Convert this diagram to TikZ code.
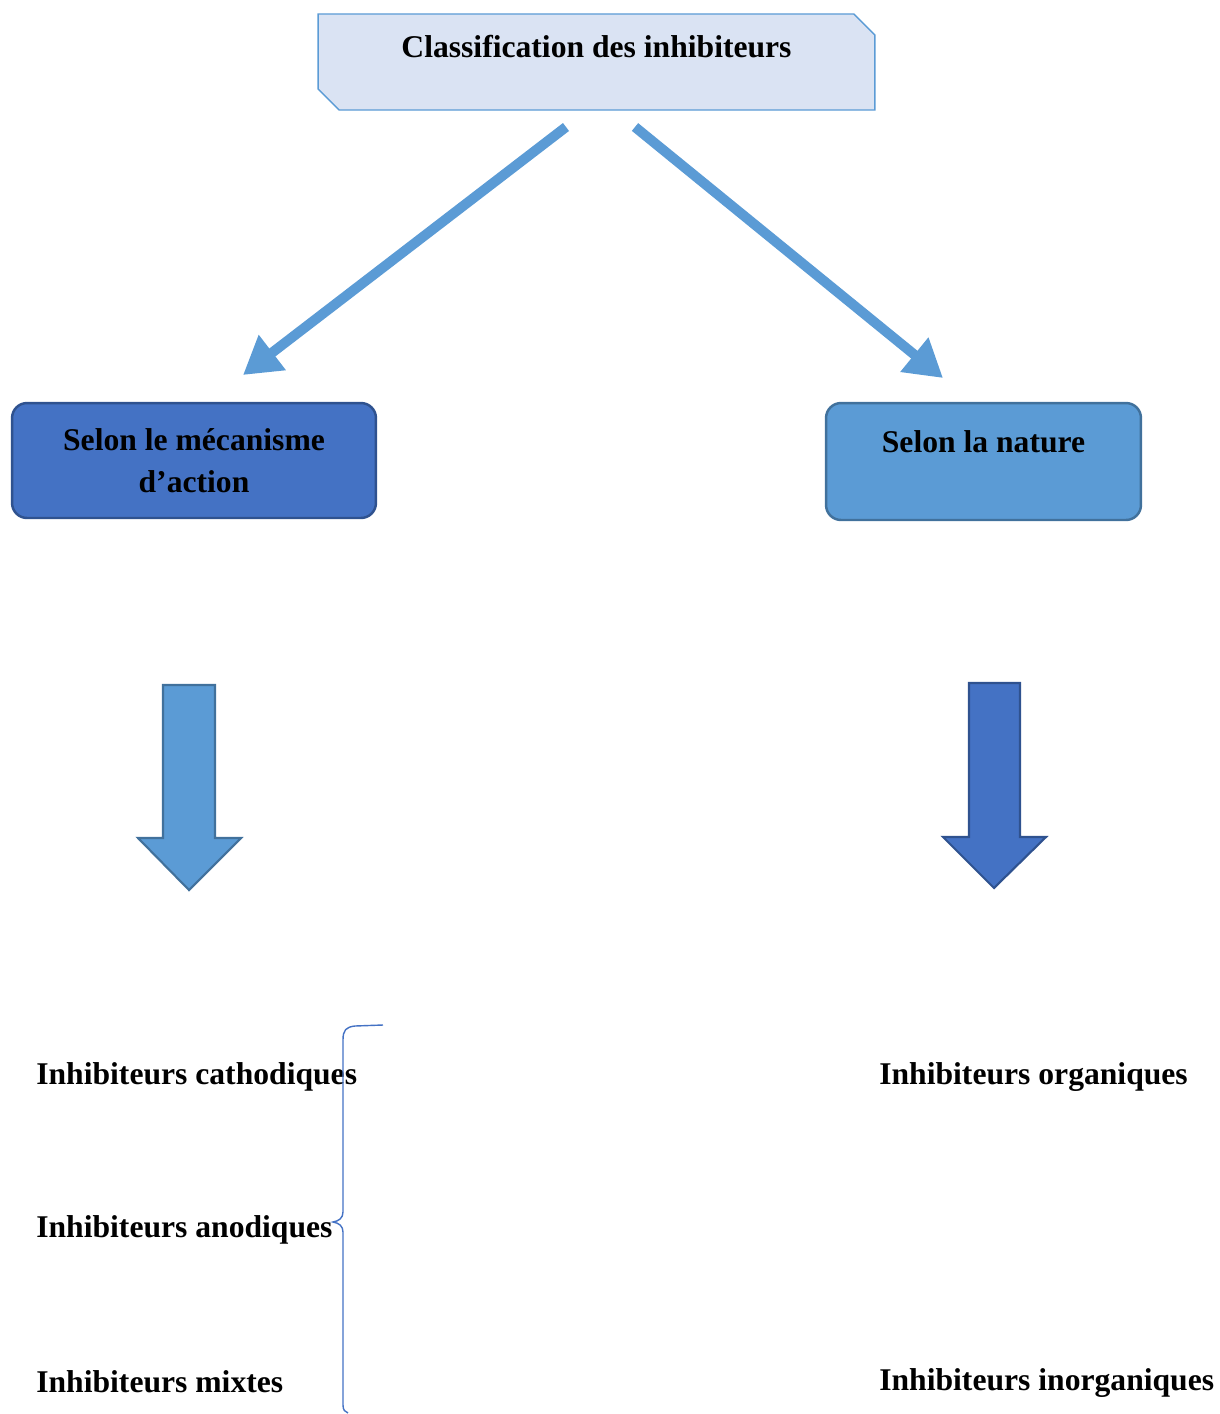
\documentclass[tikz,border=0pt]{standalone}
\usepackage{fontspec}
\setmainfont{Liberation Serif}
\usetikzlibrary{arrows.meta,shapes.misc}
\definecolor{paleblue}{HTML}{DAE3F3}
\definecolor{darkblue}{HTML}{4472C4}
\definecolor{darkline}{HTML}{2F528F}
\definecolor{midblue}{HTML}{5B9BD5}
\definecolor{midline}{HTML}{41719C}
\begin{document}
\begin{tikzpicture}[x=0.02cm,y=-0.02cm,
    every node/.style={font=\fontsize{18}{24}\selectfont\bfseries},
    headbox/.style={chamfered rectangle,chamfered rectangle xsep=6pt,chamfered rectangle ysep=6pt,
      chamfered rectangle corners={north east,south west},draw=midblue,fill=paleblue,line width=0.8pt,
      minimum width=11.14cm,inner sep=0pt,text height=0.65cm,text depth=0.85cm},
    sortbox/.style={rounded corners=0.3cm,line width=1.4pt,inner sep=0pt},
    branch/.style={midblue,line width=0.2cm,-{Triangle[length=0.74cm,width=0.84cm]}},
    item/.style={anchor=west,inner sep=0pt}]
  \useasboundingbox (0,0) rectangle (1220,1414);
  % boxes
  \node[headbox] (title) at (596.5,62) {Classification des inhibiteurs};
  \node[sortbox,draw=darkline,fill=darkblue,minimum width=7.28cm,minimum height=2.3cm,align=center]
    (meca) at (194,460.5) {Selon le mécanisme\\d’action};
  \node[sortbox,draw=midline,fill=midblue,minimum width=6.3cm,text height=0.98cm,text depth=1.36cm]
    (nature) at (983.5,461.5) {Selon la nature};
  % diagonal arrows
  \coordinate (l0) at (566,127);
  \coordinate (l1) at (243,375);
  \coordinate (r0) at (635,127);
  \coordinate (r1) at (943,378);
  \draw[branch] (l0) -- (l1);
  \draw[branch] (r0) -- (r1);
  % block arrows
  \draw[draw=midline,fill=midblue,line width=1.2pt,line join=miter]
    (163,685) -- (215,685) -- (215,838) -- (241,838) -- (189,890) -- (138,838) -- (163,838) -- cycle;
  \draw[draw=darkline,fill=darkblue,line width=1.2pt,line join=miter]
    (969,683) -- (1020,683) -- (1020,837) -- (1046,837) -- (994,888) -- (943,837) -- (969,837) -- cycle;
  % items
  \node[item] (cath) at (36,1077) {Inhibiteurs cathodiques};
  \node[item] (anod) at (36,1230) {Inhibiteurs anodiques};
  \node[item] (mixt) at (36,1382) {Inhibiteurs mixtes};
  \node[item] (orga) at (879,1077) {Inhibiteurs organiques};
  \node[item] (inorga) at (879,1383) {Inhibiteurs inorganiques};
  % brace
  \draw[darkblue,line width=0.8pt]
    (383,1025) -- (355,1026) .. controls (346,1027) and (343,1030) .. (343,1040) -- (343,1212)
    .. controls (343,1218) and (339,1221) .. (333,1222)
    .. controls (339,1223) and (343,1226) .. (343,1232) -- (343,1405)
    .. controls (343,1410) and (345,1412) .. (348,1413);
\end{tikzpicture}
\end{document}
